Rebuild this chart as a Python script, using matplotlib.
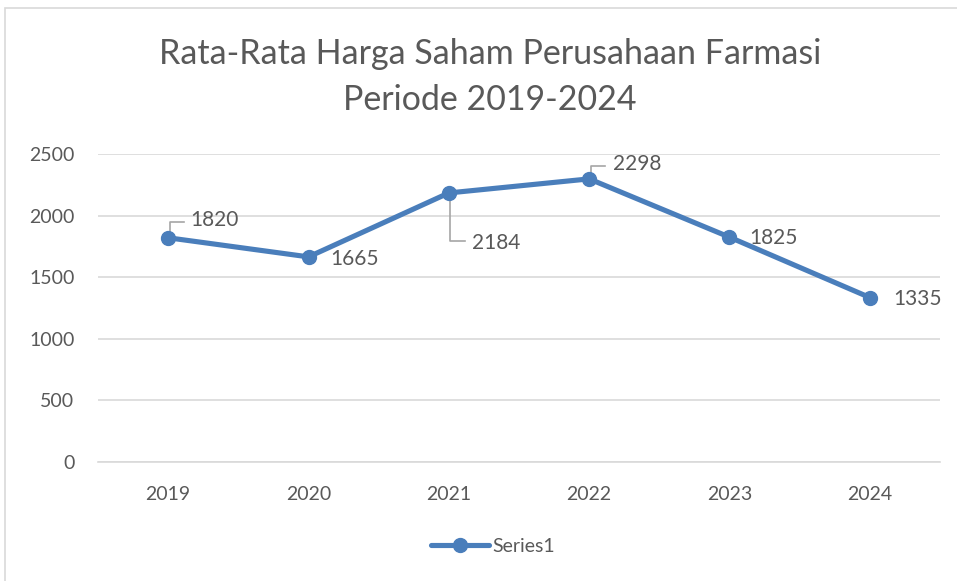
import matplotlib
matplotlib.use("Agg")
import matplotlib.pyplot as plt
import matplotlib.transforms as mtrans
from matplotlib.patches import Rectangle
from matplotlib.lines import Line2D

years = ["2019", "2020", "2021", "2022", "2023", "2024"]
values = [1820, 1665, 2184, 2298, 1825, 1335]
yticks = [0, 500, 1000, 1500, 2000, 2500]
title = "Rata-Rata Harga Saham Perusahaan Farmasi\nPeriode 2019-2024"
series_name = "Series1"

# label offsets in pixels (dx, dy) and whether a leader line is shown
label_offsets = [(22, 18), (22, -2), (23, -50), (24, 15), (20, -1), (23, -1)]
leaders = [True, False, True, True, False, False]

W, H = 957, 581
plt.rcParams['font.family'] = ['Lato', 'DejaVu Sans']
txt = "#595959"
grid = "#d9d9d9"
blue = "#4A7EBB"

fig = plt.figure(figsize=(W/100, H/100), dpi=100)
fig.patches.append(Rectangle((5/W, -0.1), 1.2, (1 - 8/H) + 0.1, transform=fig.transFigure,
                             fill=False, edgecolor=grid, linewidth=1.2))

ax = fig.add_axes([98/W, 1 - 462/H, (940-98)/W, (462-154)/H])
x = list(range(len(years)))
ax.plot(x, values, color=blue, lw=3.7, marker='o', ms=10, label=series_name,
        solid_capstyle='round', zorder=3)
ax.set_xlim(-0.5, len(years) - 0.5)
ax.set_ylim(0, 2500)
ax.set_yticks(yticks)
ax.set_xticks(x)
ax.set_xticklabels(years)
ax.grid(axis='y', color=grid, lw=1.2)
ax.set_axisbelow(True)
for s in ['top', 'right', 'left']:
    ax.spines[s].set_visible(False)
ax.spines['bottom'].set_color(grid)
ax.spines['bottom'].set_linewidth(1.2)
ax.tick_params(axis='both', length=0, labelsize=14, colors=txt)
ax.tick_params(axis='y', pad=17)
ax.tick_params(axis='x', pad=17)

px = 72 / 100.0  # points per pixel
for xi, v, (dx, dy), ld in zip(x, values, label_offsets, leaders):
    ax.annotate(str(v), (xi, v), xytext=(dx * px, dy * px), textcoords='offset points',
                fontsize=15, color=txt, ha='left', va='center')
    if ld:
        sgn = 1 if dy > 0 else -1
        y_end = dy - sgn * 2
        xs = [0, 1.5, 1.5, 16]
        ys = [sgn * 6, sgn * 6, y_end, y_end]
        ln = Line2D(xs[1:], ys[1:], color='#a6a6a6', lw=1.2, zorder=2,
                    transform=mtrans.Affine2D() + mtrans.ScaledTranslation(xi, v, ax.transData))
        ax.add_artist(ln)

fig.text(490/W, 1 - 77/H, title, ha='center', va='center', fontsize=24.5, color=txt, linespacing=1.5)

leg = fig.legend(loc='center', bbox_to_anchor=(493/W, 1 - 546/H), frameon=False,
                 fontsize=14, labelcolor=txt, handlelength=3.0, handletextpad=0.2)

fig.savefig("out.png", dpi=100)
